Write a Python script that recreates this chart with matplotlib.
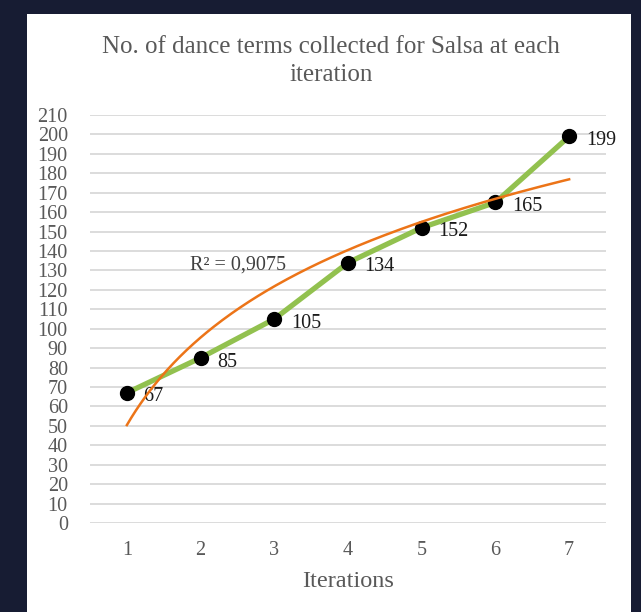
import numpy as np
import matplotlib.pyplot as plt
from matplotlib.patches import Rectangle

# Data
iterations = [1, 2, 3, 4, 5, 6, 7]
terms = [67, 85, 105, 134, 152, 165, 199]
y_ticks = list(range(0, 211, 10))

plt.rcParams['font.family'] = ['Liberation Serif', 'DejaVu Serif']

fig = plt.figure(figsize=(6.41, 6.12), dpi=100, facecolor='#171c33')
# white chart panel on dark background
fig.patches.append(Rectangle((27 / 641, 0), 604 / 641, 598 / 612,
                             transform=fig.transFigure, facecolor='white',
                             edgecolor='none', zorder=-10))

ax = fig.add_axes([90 / 641, 1 - 523 / 612, 516 / 641, 408 / 612])
ax.set_facecolor('none')

# logarithmic trendline fitted to the data
a, b = np.polyfit(np.log(iterations), terms, 1)
pred = a * np.log(iterations) + b
r2 = 1 - np.sum((np.array(terms) - pred) ** 2) / np.sum((np.array(terms) - np.mean(terms)) ** 2)
xs = np.linspace(iterations[0], iterations[-1], 200)

ax.plot(iterations, terms, color='#92c14f', lw=3.8, zorder=3,
        marker='o', markersize=10, markerfacecolor='black', markeredgecolor='black')
ax.plot(xs, a * np.log(xs) + b, color='#ec7418', lw=1.8, zorder=5)

for x, y in zip(iterations, terms):
    ax.annotate(str(y), (x, y), xytext=(12, -3), textcoords='offset points',
                ha='left', va='center', fontsize=14.5, color='#1a1a1a', zorder=4)

ax.text(1.86, 133, 'R² = ' + f'{r2:.4f}'.replace('.', ','), fontsize=14.5,
        color='#404040', ha='left', va='center')

ax.set_xlim(0.5, 7.5)
ax.set_ylim(0, 210)
ax.set_yticks(y_ticks)
ax.set_xticks(iterations)
ax.grid(axis='y', color='#d9d9d9', lw=1.3)
ax.set_axisbelow(True)
for s in ax.spines.values():
    s.set_visible(False)
ax.tick_params(length=0, labelsize=14.5, colors='#595959')
ax.tick_params(axis='x', pad=13)
ax.tick_params(axis='y', pad=16)

ax.set_xlabel('Iterations', fontsize=17.5, color='#595959', labelpad=8)
fig.text(331 / 641, 1 - 61 / 612, 'No. of dance terms collected for Salsa at each\niteration',
         ha='center', va='center', fontsize=18, color='#595959', linespacing=1.35,
         family='Liberation Serif')

fig.savefig('out.png', dpi=100, facecolor=fig.get_facecolor())
